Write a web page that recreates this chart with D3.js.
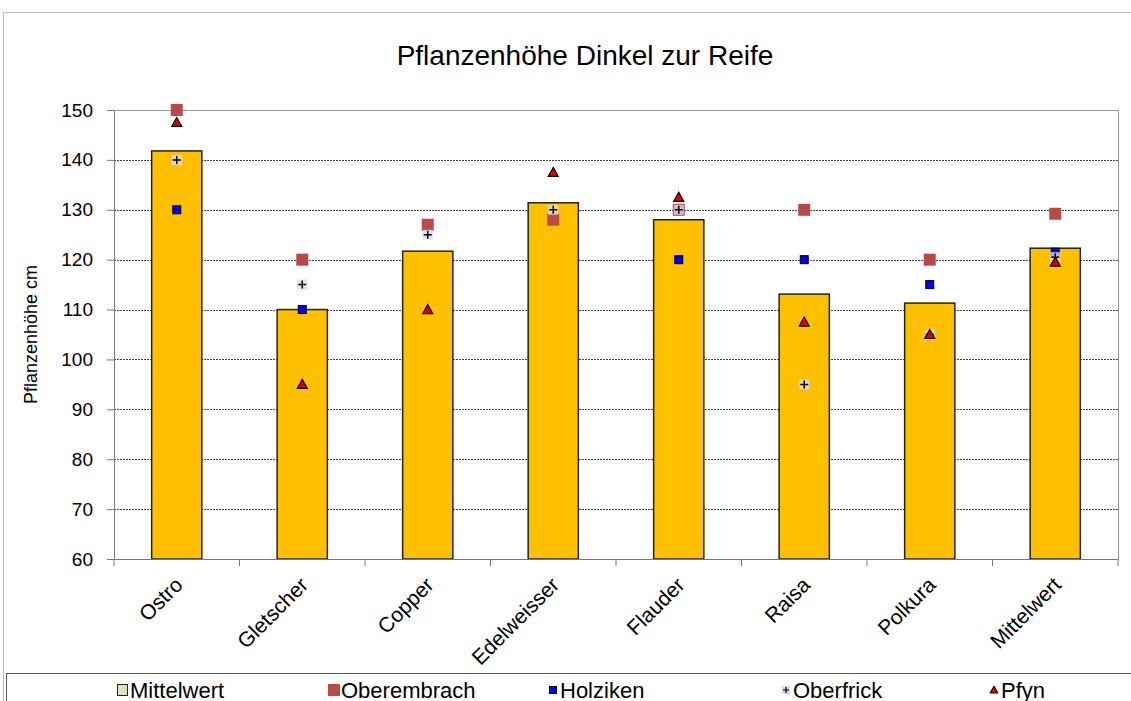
<!DOCTYPE html>
<html>
<head>
<meta charset="utf-8">
<script src="https://cdn.jsdelivr.net/npm/d3@7"></script>
<style>
  body { margin: 0; background: #fff; }
  text { font-family: "Liberation Sans", Arial, sans-serif; }
</style>
</head>
<body>
<div id="chart"></div>
<script>
var categories = ["Ostro", "Gletscher", "Copper", "Edelweisser", "Flauder", "Raisa", "Polkura", "Mittelwert"];
var mittelwert = [141.8, 110, 121.7, 131.4, 128, 113.1, 111.3, 122.3];
var oberembrach = [150, 120, 127, 128, 130, 130, 120, 129.2];
var holziken = [130, 110, null, null, 120, 120, 115, 121.5];
var oberfrick = [140, 115, 125, 130, 130, 95, 105, 120.5];
var pfyn = [147.5, 95, 110, 137.5, 132.5, 107.5, 105, 119.5];
var yTicks = [60, 70, 80, 90, 100, 110, 120, 130, 140, 150];
var legendNames = ["Mittelwert", "Oberembrach", "Holziken", "Oberfrick", "Pfyn"];

var width = 1131, height = 701;
var margin = { top: 110, right: 13, bottom: 142, left: 114 };

var svg = d3.select("#chart").append("svg")
  .attr("width", width)
  .attr("height", height);

// outer frame
svg.append("rect")
  .attr("x", 3.5).attr("y", 12.5)
  .attr("width", width).attr("height", height)
  .attr("fill", "none").attr("stroke", "#bbb");

var x = d3.scaleBand()
  .domain(categories)
  .range([margin.left, width - margin.right])
  .paddingInner(0.6).paddingOuter(0.3);

var band = d3.scaleBand()
  .domain(categories)
  .range([margin.left, width - margin.right]);

var y = d3.scaleLinear()
  .domain([60, 150])
  .range([height - margin.bottom, margin.top]);

// grid
svg.append("g").selectAll("line")
  .data(yTicks.slice(1, -1))
  .enter().append("line")
  .attr("x1", margin.left).attr("x2", width - margin.right)
  .attr("y1", d => Math.round(y(d)) + 0.5).attr("y2", d => Math.round(y(d)) + 0.5)
  .attr("stroke", "#444").attr("stroke-width", 1)
  .attr("stroke-dasharray", "2,1");

// plot frame top/right
svg.append("path")
  .attr("d", "M" + margin.left + "," + (y(150) + 0.5) + "H" + (width - margin.right + 0.5) + "V" + y(60))
  .attr("fill", "none").attr("stroke", "#999");

// bars
svg.append("g").selectAll("rect")
  .data(categories)
  .enter().append("rect")
  .attr("x", d => x(d))
  .attr("y", (d, i) => y(mittelwert[i]))
  .attr("width", x.bandwidth())
  .attr("height", (d, i) => y(60) - y(mittelwert[i]))
  .attr("fill", "#FFC000")
  .attr("stroke", "#222")
  .attr("stroke-width", 1.5);

// y axis
var yAxis = svg.append("g")
  .attr("transform", "translate(" + margin.left + ",0)")
  .call(d3.axisLeft(y).tickValues(yTicks).tickSize(7).tickSizeOuter(0).tickPadding(14));
yAxis.selectAll("text").style("font-size", "19px").attr("fill", "#000");
yAxis.selectAll("line, path").attr("stroke", "#777");

// x axis
var xAxis = svg.append("g")
  .attr("transform", "translate(0," + y(60) + ")")
  .call(d3.axisBottom(band).tickSize(0).tickSizeOuter(0));
xAxis.select("path").attr("stroke", "#777");
xAxis.selectAll(".tick text")
  .style("font-size", "21px").attr("fill", "#000")
  .attr("text-anchor", "end")
  .attr("y", 0).attr("dy", "0.35em")
  .attr("transform", "translate(2,22) rotate(-45)");
xAxis.selectAll(".tick line").remove();
xAxis.append("g").selectAll("line")
  .data(d3.range(categories.length + 1))
  .enter().append("line")
  .attr("x1", d => margin.left + d * band.step())
  .attr("x2", d => margin.left + d * band.step())
  .attr("y1", 0).attr("y2", 7)
  .attr("stroke", "#777");

function cx(i) { return x(categories[i]) + x.bandwidth() / 2; }

function drawSeries(data, drawFn) {
  var g = svg.append("g");
  data.forEach(function (d, i) {
    if (d == null) return;
    drawFn(g.append("g").attr("transform", "translate(" + cx(i) + "," + y(d) + ")"));
  });
}

// Oberembrach
drawSeries(oberembrach, function (g) {
  g.append("rect").attr("x", -6).attr("y", -6).attr("width", 12).attr("height", 12)
    .attr("fill", "#B94A48");
});

// Holziken
drawSeries(holziken, function (g) {
  g.append("rect").attr("x", -4).attr("y", -4).attr("width", 8).attr("height", 8)
    .attr("fill", "#0000FF").attr("stroke", "#000").attr("stroke-width", 1);
});

// Oberfrick
drawSeries(oberfrick, function (g) {
  g.append("rect").attr("x", -5).attr("y", -5).attr("width", 10).attr("height", 10)
    .attr("fill", "#D8D8F4").attr("opacity", 0.8);
  g.append("path").attr("d", "M-4,0H4M0,-4V4").attr("stroke", "#000").attr("stroke-width", 1.5);
});

// Pfyn
drawSeries(pfyn, function (g) {
  g.append("path").attr("d", "M0,-5L5,4H-5Z")
    .attr("fill", "#E00000").attr("stroke", "#000").attr("stroke-width", 1.2);
});

// title
svg.append("text")
  .attr("x", 585).attr("y", 65)
  .attr("text-anchor", "middle")
  .style("font-size", "28px")
  .text("Pflanzenhöhe Dinkel zur Reife");

// y label
svg.append("text")
  .attr("transform", "translate(37," + ((y(60) + y(150)) / 2) + ") rotate(-90)")
  .attr("text-anchor", "middle")
  .style("font-size", "18px")
  .text("Pflanzenhöhe cm");

// legend
svg.append("rect")
  .attr("x", 6.5).attr("y", 673.5)
  .attr("width", width).attr("height", 40)
  .attr("fill", "#fff").attr("stroke", "#555");

var legendX = [117, 328, 547, 780, 988];
legendNames.forEach(function (name, i) {
  var g = svg.append("g").attr("transform", "translate(" + legendX[i] + ",690)");
  if (i === 0) {
    g.append("rect").attr("x", 0.5).attr("y", -5.5).attr("width", 10).attr("height", 11)
      .attr("fill", "#D7E4BD").attr("stroke", "#222");
  } else if (i === 1) {
    g.append("rect").attr("x", 0).attr("y", -6).attr("width", 12).attr("height", 12)
      .attr("fill", "#B94A48");
  } else if (i === 2) {
    g.append("rect").attr("x", 2.5).attr("y", -3.5).attr("width", 7).attr("height", 7)
      .attr("fill", "#0000FF").attr("stroke", "#000");
  } else if (i === 3) {
    g.append("rect").attr("x", 2).attr("y", -4).attr("width", 8).attr("height", 8)
      .attr("fill", "#D8D8F4");
    g.append("path").attr("d", "M3,0H9M6,-3V3").attr("stroke", "#000").attr("stroke-width", 1.2);
  } else {
    g.append("path").attr("d", "M6,-4L10,3H2Z").attr("fill", "#E00000").attr("stroke", "#000");
  }
  g.append("text").attr("x", 13).attr("y", 8)
    .style("font-size", "22px")
    .text(name);
});
</script>
</body>
</html>
